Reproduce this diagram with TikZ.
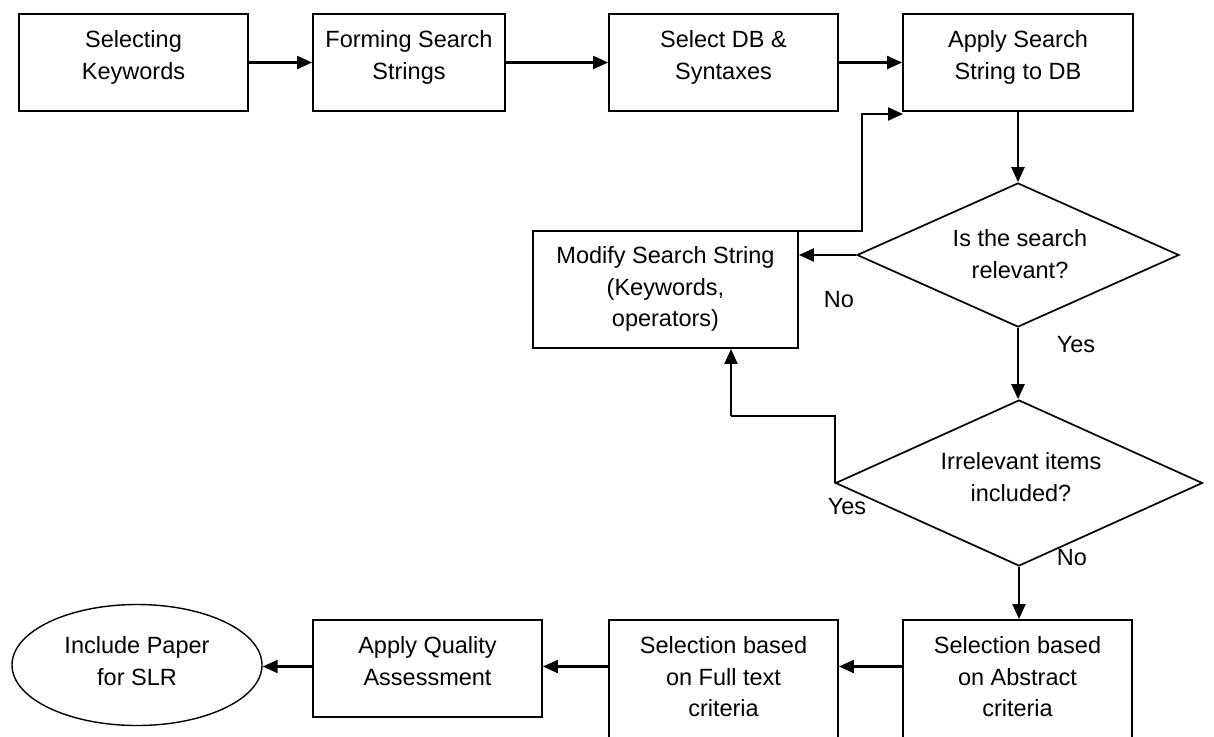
\documentclass[tikz,border=0pt]{standalone}
\usepackage{fontspec}
\setmainfont{Liberation Sans}
\usetikzlibrary{shapes.geometric,arrows.meta}
\begin{document}
\begin{tikzpicture}[x=1pt,y=-1pt]
\tikzset{
 box/.style={draw, line width=1.9pt, inner sep=0pt, rectangle},
 dia/.style={draw, diamond, line width=1.7pt, inner sep=0pt},
 oval/.style={draw, ellipse, line width=1.4pt, inner sep=0pt},
 txt/.style={align=center, inner sep=0pt, anchor=north, font=\fontsize{23.5}{31.5}\selectfont},
 lbl/.style={inner sep=0pt, font=\fontsize{23.5}{28}\selectfont},
 conn/.style={line width=2.2pt, -{Triangle[length=15pt,width=13pt]}},
 line/.style={line width=2.2pt},
}
\useasboundingbox (0,0) rectangle (1214,736);
% top row
\node[box, minimum width=229pt, minimum height=97pt] (b1) at (133.5,62.5) {};
\node[txt] (t1) at (133.5,30.5) {Selecting\\Keywords};
\node[box, minimum width=192pt, minimum height=97pt] (b2) at (409,62.5) {};
\node[txt] (t2) at (409,30.5) {Forming Search\\Strings};
\node[box, minimum width=229pt, minimum height=97pt] (b3) at (723.5,62.5) {};
\node[txt] (t3) at (723.5,30.5) {Select DB \&\\Syntaxes};
\node[box, minimum width=230pt, minimum height=97pt] (b4) at (1018,62.5) {};
\node[txt] (t4) at (1018,30.5) {Apply Search\\String to DB};
% middle
\node[box, minimum width=265pt, minimum height=117pt] (mod) at (665.5,289.5) {};
\node[txt] (tm) at (665.5,246.5) {Modify Search String\\(Keywords,\\operators)};
\node[dia, minimum width=322pt, minimum height=144pt] (d1) at (1018,255) {};
\node[txt] (td1) at (1020,229.5) {Is the search\\relevant?};
\node[dia, minimum width=367pt, minimum height=166pt] (d2) at (1019,483) {};
\node[txt] (td2) at (1021,452.5) {Irrelevant items\\included?};
% bottom row
\node[oval, minimum width=250pt, minimum height=121pt] (ell) at (137,665) {};
\node[txt] (te) at (137,636.5) {Include Paper\\for SLR};
\node[box, minimum width=229pt, minimum height=97pt] (app) at (427.5,668.5) {};
\node[txt] (ta) at (427.5,636.5) {Apply Quality\\Assessment};
\node[box, minimum width=229pt, minimum height=140pt] (full) at (723.5,690) {};
\node[txt] (tf) at (723.5,636.5) {Selection based\\on Full text\\criteria};
\node[box, minimum width=229pt, minimum height=140pt] (abs) at (1017.5,690) {};
\node[txt] (tb) at (1017.5,636.5) {Selection based\\on Abstract\\criteria};
% labels
\node[lbl] (no1) at (839,300) {No};
\node[lbl] (yes1) at (1076,345) {Yes};
\node[lbl] (yes2) at (847,507) {Yes};
\node[lbl] (no2) at (1072,558) {No};
% connectors
\draw[conn] (b1.east) -- (b2.west);
\draw[conn] (b2.east) -- (b3.west);
\draw[conn] (b3.east) -- (b4.west);
\draw[conn] (b4.south) -- (d1.north);
\draw[conn] (d1.west) -- (d1.west -| mod.east);
\draw[conn] (d1.south) -- (d1.south |- d2.north);
\draw[conn] (d2.south) -- (d2.south |- abs.north);
\coordinate (fbs) at (687,231);
\coordinate (fbe) at (903,114);
\draw[conn] (fbs) -- (862,231) -- (862,114) -- (fbe);
\coordinate (ys) at (731,416);
\draw[line] (d2.west) -- (d2.west |- ys) -- (ys);
\draw[conn] (ys) -- (ys |- mod.south);
\draw[conn] (abs.west |- 0,666.5) -- (full.east |- 0,666.5);
\draw[conn] (full.west |- 0,666.5) -- (app.east |- 0,666.5);
\draw[conn] (app.west |- 0,666.5) -- (ell.east |- 0,666.5);
\end{tikzpicture}
\end{document}
